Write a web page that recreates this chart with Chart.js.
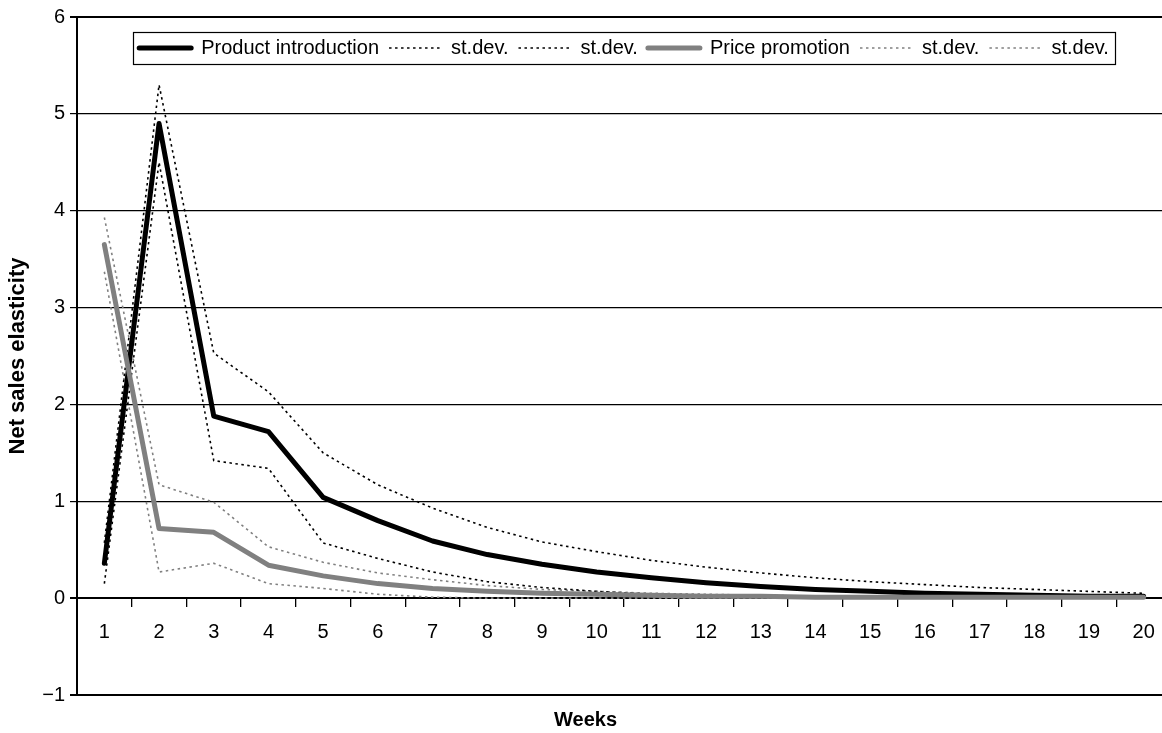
<!DOCTYPE html>
<html>
<head>
<meta charset="utf-8">
<script src="https://cdn.jsdelivr.net/npm/chart.js@4.4.1/dist/chart.umd.min.js"></script>
<style>
  html, body { margin: 0; padding: 0; background: #fff; overflow: hidden; }
  #wrap { position: relative; width: 1175px; height: 733px; }
</style>
</head>
<body>
<div id="wrap"><canvas id="c"></canvas></div>
<script>
const weeks = ['1','2','3','4','5','6','7','8','9','10','11','12','13','14','15','16','17','18','19','20'];
const productIntro = [0.36, 4.90, 1.88, 1.72, 1.04, 0.80, 0.59, 0.45, 0.35, 0.27, 0.21, 0.16, 0.12, 0.09, 0.07, 0.05, 0.04, 0.03, 0.02, 0.02];
const productUpper = [0.57, 5.30, 2.53, 2.13, 1.50, 1.17, 0.93, 0.73, 0.58, 0.48, 0.39, 0.32, 0.26, 0.21, 0.17, 0.14, 0.11, 0.09, 0.07, 0.05];
const productLower = [0.15, 4.50, 1.42, 1.34, 0.57, 0.41, 0.27, 0.17, 0.11, 0.07, 0.04, 0.02, 0.01, 0.00, 0.00, 0.00, 0.00, 0.00, 0.00, 0.00];
const pricePromo   = [3.65, 0.72, 0.68, 0.34, 0.23, 0.15, 0.10, 0.07, 0.05, 0.04, 0.03, 0.02, 0.02, 0.01, 0.01, 0.01, 0.01, 0.01, 0.01, 0.01];
const priceUpper   = [3.93, 1.17, 0.99, 0.53, 0.37, 0.26, 0.19, 0.13, 0.09, 0.07, 0.05, 0.04, 0.03, 0.02, 0.02, 0.02, 0.01, 0.01, 0.01, 0.01];
const priceLower   = [3.37, 0.27, 0.36, 0.15, 0.10, 0.04, 0.01, 0.00, 0.00, 0.00, 0.00, 0.00, 0.00, 0.00, 0.00, 0.00, 0.00, 0.00, 0.00, 0.00];
const seriesLabels = ['Product introduction', 'st.dev.', 'st.dev.', 'Price promotion', 'st.dev.', 'st.dev.'];
const yTitle = 'Net sales elasticity';
const xTitle = 'Weeks';

const FONT = "'Liberation Sans', Arial, Helvetica, sans-serif";
const BLACK = '#000000';
const GRAY = '#808080';
const DASH = [2.5, 3.5];

function line(label, data, color, width, dash, order) {
  return {
    label, data,
    borderColor: color, backgroundColor: color,
    borderWidth: width, borderDash: dash,
    borderCapStyle: dash.length ? 'butt' : 'round',
    borderJoinStyle: 'round',
    pointRadius: 0, pointHoverRadius: 0,
    tension: 0, fill: false, order,
    pointStyle: 'line'
  };
}

// Legend sits inside the plot, framed, without taking layout space
const legendBox = {
  id: 'legendBox',
  beforeLayout(chart) {
    const lg = chart.legend;
    if (lg && !lg._patched) {
      const orig = lg.fit;
      lg.fit = function () { orig.call(this); this._fullH = this.height; this.height = 0; };
      lg._patched = true;
    }
  },
  beforeDraw(chart) {
    const lg = chart.legend;
    lg.top = chart.chartArea.top + 11;
    lg.bottom = lg.top + (lg._fullH || 0);
  },
  afterDraw(chart) {
    const lg = chart.legend;
    if (!lg.lineWidths) return;
    const pad = lg.options.labels.padding;
    const fs = lg.options.labels.font.size;
    const span = lg.lineWidths[0] - pad;
    const cx = (lg.left + lg.right) / 2;
    const ctx = chart.ctx;
    ctx.save();
    ctx.strokeStyle = '#000';
    ctx.lineWidth = 1.2;
    ctx.setLineDash([]);
    ctx.strokeRect(Math.round(cx - span / 2 - 6) + 0.5, Math.round(lg.top + pad - 6.5) + 0.5, Math.round(span + 12), fs + 12);
    ctx.restore();
  }
};

const edgeLines = (ctx) => {
  const v = ctx.tick && ctx.tick.value;
  return (v === 6 || v === -1 || v === 0) ? 2 : 1.2;
};

new Chart(document.getElementById('c'), {
  type: 'line',
  data: {
    labels: weeks,
    datasets: [
      line(seriesLabels[0], productIntro, BLACK, 5, [], 1),
      line(seriesLabels[1], productUpper, BLACK, 1.6, DASH, 2),
      line(seriesLabels[2], productLower, BLACK, 1.6, DASH, 2),
      line(seriesLabels[3], pricePromo, GRAY, 5, [], 0),
      line(seriesLabels[4], priceUpper, GRAY, 1.6, DASH, 3),
      line(seriesLabels[5], priceLower, GRAY, 1.6, DASH, 3)
    ]
  },
  options: {
    responsive: true,
    maintainAspectRatio: false,
    animation: false,
    events: [],
    layout: { padding: { top: 17, right: 4, left: 0, bottom: 0 } },
    scales: {
      x: {
        position: { y: 0 },
        offset: true,
        grid: { offset: true, drawOnChartArea: false, drawTicks: true, tickLength: 8, color: BLACK, lineWidth: 1.3 },
        border: { display: true, color: BLACK, width: 2 },
        ticks: { color: BLACK, font: { family: FONT, size: 20 }, padding: 14, maxRotation: 0, autoSkip: false }
      },
      y: {
        min: -1, max: 6,
        afterFit(s) { s.width = 77; },
        ticks: {
          stepSize: 1, color: BLACK, font: { family: FONT, size: 20 }, padding: 5,
          callback: (v) => v < 0 ? '\u2212' + Math.abs(v) : String(v)
        },
        grid: { color: BLACK, lineWidth: edgeLines, tickLength: 7, drawTicks: true },
        border: { display: true, color: BLACK, width: 2 },
        title: { display: true, text: yTitle, color: BLACK, font: { family: FONT, size: 22, weight: 'bold' }, padding: { top: 5, bottom: 0 } }
      }
    },
    plugins: {
      legend: {
        position: 'top',
        fullSize: false,
        align: 'center',
        labels: {
          usePointStyle: true,
          pointStyle: 'line',
          pointStyleWidth: 52,
          boxHeight: 20,
          padding: 10,
          color: BLACK,
          font: { family: FONT, size: 20 },
          sort: (a, b) => a.datasetIndex - b.datasetIndex,
          generateLabels(chart) {
            const items = Chart.defaults.plugins.legend.labels.generateLabels(chart);
            items.forEach((it) => {
              const ds = chart.data.datasets[it.datasetIndex];
              it.lineDash = ds.borderDash;
              it.lineWidth = ds.borderWidth;
              it.strokeStyle = ds.borderColor;
              it.lineCap = ds.borderCapStyle;
            });
            return items;
          }
        }
      },
      title: {
        display: true, position: 'bottom', text: xTitle, color: BLACK,
        font: { family: FONT, size: 20, weight: 'bold' },
        padding: { top: 13, bottom: 1 }
      },
      tooltip: { enabled: false }
    }
  },
  plugins: [legendBox]
});
</script>
</body>
</html>
